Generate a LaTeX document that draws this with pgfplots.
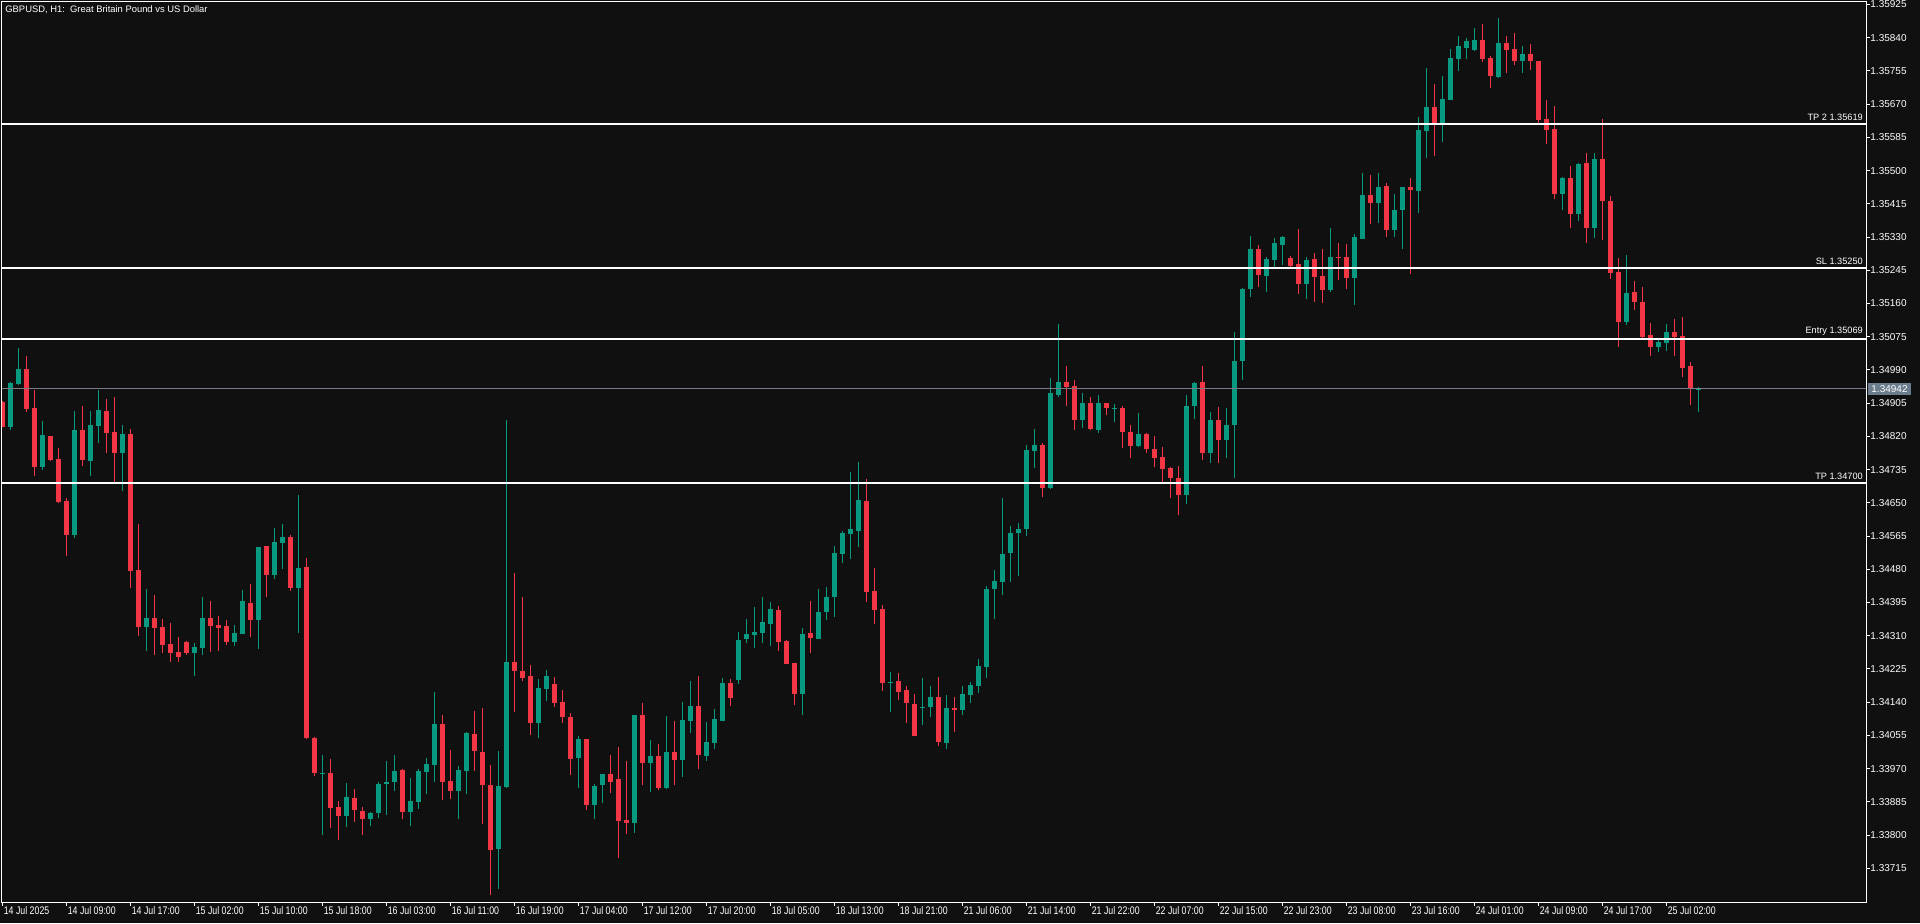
\documentclass[border=0pt]{standalone}
\usepackage{fontspec}
\setmainfont{Liberation Sans}
\newfontfamily\narrowfont[FakeStretch=0.8]{Liberation Sans}
\usepackage{pgfplots}
\usepackage{pgfplotstable}
\pgfplotsset{compat=1.18}
\definecolor{bgc}{RGB}{16,16,16}
\definecolor{upc}{RGB}{8,153,129}
\definecolor{dnc}{RGB}{242,54,69}
\definecolor{pricel}{RGB}{120,123,134}
\definecolor{pricebox}{RGB}{107,124,140}

\pgfplotstableread{
k o h l c
1 1.34845 1.34959 1.34837 1.34956
2 1.34955 1.35046 1.34951 1.34992
5 1.34742 1.34859 1.34735 1.34823
9 1.34568 1.34885 1.34561 1.34836
11 1.34758 1.34885 1.34719 1.34849
12 1.34847 1.34939 1.34804 1.34887
15 1.34778 1.34849 1.34681 1.34826
18 1.34333 1.34430 1.34272 1.34355
24 1.34267 1.34291 1.34207 1.34281
25 1.34279 1.34409 1.34262 1.34355
29 1.34295 1.34337 1.34285 1.34317
30 1.34315 1.34427 1.34314 1.34399
32 1.34351 1.34538 1.34277 1.34537
34 1.34466 1.34586 1.34456 1.34550
35 1.34548 1.34596 1.34482 1.34563
37 1.34433 1.34670 1.34318 1.34483
40 1.33957 1.34005 1.33800 1.33959
43 1.33850 1.33933 1.33822 1.33898
46 1.33840 1.33859 1.33824 1.33857
47 1.33857 1.33936 1.33845 1.33931
48 1.33932 1.33990 1.33852 1.33935
49 1.33937 1.34005 1.33914 1.33964
51 1.33858 1.33946 1.33824 1.33887
52 1.33886 1.33969 1.33868 1.33964
53 1.33962 1.33997 1.33906 1.33982
54 1.33980 1.34166 1.33937 1.34084
57 1.33914 1.33977 1.33840 1.33967
58 1.33965 1.34064 1.33904 1.34061
62 1.33765 1.34015 1.33663 1.33926
63 1.33924 1.34862 1.33921 1.34243
67 1.34088 1.34199 1.34049 1.34176
68 1.34175 1.34222 1.34144 1.34207
72 1.33998 1.34054 1.33921 1.34046
74 1.33878 1.33931 1.33842 1.33926
75 1.33927 1.33957 1.33881 1.33956
79 1.33832 1.34108 1.33806 1.34107
81 1.33985 1.34043 1.33911 1.34002
83 1.33921 1.34105 1.33917 1.34013
85 1.33993 1.34140 1.33949 1.34094
86 1.34092 1.34194 1.34062 1.34130
88 1.34003 1.34089 1.33990 1.34038
89 1.34036 1.34123 1.34020 1.34097
90 1.34092 1.34202 1.34091 1.34189
92 1.34197 1.34320 1.34187 1.34299
93 1.34302 1.34353 1.34292 1.34315
94 1.34312 1.34384 1.34279 1.34320
95 1.34317 1.34409 1.34292 1.34345
96 1.34340 1.34396 1.34284 1.34379
100 1.34161 1.34330 1.34107 1.34315
102 1.34302 1.34430 1.34301 1.34371
103 1.34371 1.34435 1.34350 1.34409
104 1.34409 1.34540 1.34358 1.34522
105 1.34519 1.34578 1.34496 1.34573
106 1.34570 1.34729 1.34506 1.34583
107 1.34578 1.34755 1.34537 1.34657
111 1.34190 1.34217 1.34115 1.34192
115 1.34126 1.34202 1.34082 1.34128
116 1.34128 1.34182 1.34102 1.34153
118 1.34036 1.34159 1.34020 1.34125
120 1.34120 1.34182 1.34107 1.34161
121 1.34159 1.34191 1.34138 1.34184
122 1.34182 1.34251 1.34164 1.34232
123 1.34230 1.34437 1.34202 1.34430
124 1.34430 1.34479 1.34354 1.34450
125 1.34448 1.34663 1.34413 1.34520
126 1.34521 1.34591 1.34448 1.34573
127 1.34572 1.34599 1.34464 1.34584
128 1.34582 1.34799 1.34564 1.34784
129 1.34782 1.34838 1.34739 1.34799
131 1.34687 1.34970 1.34685 1.34930
132 1.34926 1.35107 1.34920 1.34958
135 1.34861 1.34930 1.34841 1.34905
137 1.34836 1.34925 1.34828 1.34905
139 1.34891 1.34902 1.34856 1.34893
142 1.34795 1.34879 1.34792 1.34825
148 1.34669 1.34927 1.34646 1.34899
149 1.34897 1.34960 1.34864 1.34956
151 1.34777 1.34883 1.34751 1.34863
153 1.34810 1.34892 1.34764 1.34850
154 1.34849 1.35086 1.34713 1.35014
155 1.35012 1.35199 1.34964 1.35197
156 1.35197 1.35332 1.35177 1.35299
158 1.35230 1.35278 1.35189 1.35274
159 1.35272 1.35328 1.35253 1.35315
160 1.35310 1.35332 1.35259 1.35329
163 1.35210 1.35279 1.35171 1.35271
166 1.35194 1.35353 1.35189 1.35279
169 1.35225 1.35338 1.35156 1.35330
170 1.35325 1.35494 1.35324 1.35437
172 1.35417 1.35494 1.35366 1.35458
174 1.35348 1.35440 1.35330 1.35399
175 1.35399 1.35459 1.35299 1.35458
177 1.35448 1.35637 1.35391 1.35604
178 1.35601 1.35762 1.35532 1.35663
180 1.35622 1.35742 1.35573 1.35683
181 1.35681 1.35811 1.35680 1.35788
182 1.35785 1.35844 1.35755 1.35819
183 1.35814 1.35839 1.35785 1.35831
184 1.35808 1.35865 1.35806 1.35834
187 1.35739 1.35890 1.35737 1.35826
190 1.35780 1.35819 1.35750 1.35798
195 1.35440 1.35484 1.35399 1.35481
197 1.35389 1.35519 1.35371 1.35517
199 1.35353 1.35545 1.35328 1.35530
203 1.35113 1.35284 1.35105 1.35187
207 1.35049 1.35067 1.35036 1.35061
208 1.35059 1.35108 1.35038 1.35087
212 1.34940 1.34946 1.34882 1.34942
}\upbars

\pgfplotstableread{
k o h l c
0 1.34908 1.34910 1.34843 1.34845
3 1.34992 1.35026 1.34883 1.34891
4 1.34892 1.34939 1.34719 1.34742
6 1.34821 1.34822 1.34758 1.34760
7 1.34762 1.34790 1.34650 1.34653
8 1.34655 1.34662 1.34515 1.34568
10 1.34836 1.34898 1.34745 1.34760
13 1.34885 1.34916 1.34778 1.34829
14 1.34831 1.34921 1.34704 1.34778
16 1.34826 1.34839 1.34433 1.34476
17 1.34478 1.34596 1.34310 1.34333
19 1.34355 1.34414 1.34262 1.34331
20 1.34332 1.34353 1.34267 1.34287
21 1.34289 1.34343 1.34244 1.34267
22 1.34268 1.34307 1.34244 1.34256
23 1.34294 1.34296 1.34262 1.34267
26 1.34355 1.34399 1.34269 1.34336
27 1.34337 1.34360 1.34272 1.34331
28 1.34335 1.34350 1.34287 1.34295
31 1.34394 1.34442 1.34308 1.34351
33 1.34539 1.34540 1.34410 1.34466
36 1.34563 1.34568 1.34425 1.34433
38 1.34486 1.34509 1.34045 1.34048
39 1.34049 1.34052 1.33950 1.33960
41 1.33959 1.33995 1.33819 1.33870
42 1.33872 1.33887 1.33788 1.33850
44 1.33895 1.33918 1.33834 1.33863
45 1.33862 1.33872 1.33801 1.33840
50 1.33967 1.33969 1.33840 1.33858
55 1.34084 1.34107 1.33891 1.33937
56 1.33939 1.34018 1.33893 1.33914
59 1.34059 1.34118 1.33965 1.34014
60 1.34013 1.34125 1.33829 1.33927
61 1.33928 1.33979 1.33648 1.33763
64 1.34243 1.34471 1.34116 1.34221
65 1.34220 1.34409 1.34193 1.34203
66 1.34207 1.34235 1.34057 1.34088
69 1.34187 1.34205 1.34129 1.34139
70 1.34141 1.34171 1.34088 1.34101
71 1.34102 1.34112 1.33955 1.33996
73 1.34046 1.34047 1.33865 1.33878
76 1.33956 1.34005 1.33909 1.33937
77 1.33944 1.34025 1.33742 1.33837
78 1.33839 1.33990 1.33804 1.33832
80 1.34107 1.34138 1.33929 1.33985
82 1.34002 1.34033 1.33915 1.33921
84 1.34013 1.34092 1.33928 1.33993
87 1.34130 1.34207 1.33969 1.34005
91 1.34189 1.34199 1.34130 1.34151
97 1.34376 1.34386 1.34271 1.34294
98 1.34297 1.34298 1.34237 1.34238
99 1.34240 1.34241 1.34133 1.34161
101 1.34317 1.34399 1.34266 1.34304
108 1.34655 1.34711 1.34396 1.34422
109 1.34425 1.34483 1.34340 1.34376
110 1.34379 1.34389 1.34169 1.34189
112 1.34194 1.34215 1.34146 1.34166
113 1.34171 1.34182 1.34087 1.34138
114 1.34136 1.34161 1.34053 1.34054
117 1.34153 1.34205 1.34028 1.34038
119 1.34125 1.34153 1.34064 1.34120
130 1.34799 1.34802 1.34666 1.34687
133 1.34958 1.34999 1.34897 1.34946
134 1.34948 1.34963 1.34836 1.34861
136 1.34905 1.34922 1.34836 1.34839
138 1.34905 1.34906 1.34874 1.34893
140 1.34893 1.34899 1.34790 1.34830
141 1.34832 1.34850 1.34766 1.34795
143 1.34825 1.34829 1.34777 1.34787
144 1.34789 1.34822 1.34741 1.34766
145 1.34768 1.34794 1.34701 1.34736
146 1.34738 1.34742 1.34663 1.34713
147 1.34714 1.34745 1.34618 1.34669
150 1.34958 1.34999 1.34759 1.34777
152 1.34863 1.34896 1.34753 1.34810
157 1.35299 1.35309 1.35202 1.35233
161 1.35276 1.35281 1.35254 1.35256
162 1.35261 1.35351 1.35184 1.35210
164 1.35274 1.35289 1.35164 1.35228
165 1.35230 1.35299 1.35161 1.35194
167 1.35279 1.35315 1.35220 1.35276
168 1.35279 1.35312 1.35197 1.35225
171 1.35437 1.35489 1.35363 1.35417
173 1.35460 1.35468 1.35330 1.35348
176 1.35458 1.35481 1.35235 1.35450
179 1.35663 1.35721 1.35537 1.35622
185 1.35834 1.35875 1.35778 1.35785
186 1.35788 1.35793 1.35711 1.35742
188 1.35826 1.35844 1.35750 1.35808
189 1.35811 1.35852 1.35770 1.35780
191 1.35798 1.35824 1.35757 1.35780
192 1.35780 1.35781 1.35622 1.35629
193 1.35632 1.35681 1.35568 1.35604
194 1.35606 1.35665 1.35427 1.35440
196 1.35481 1.35512 1.35353 1.35389
198 1.35519 1.35545 1.35315 1.35353
200 1.35530 1.35632 1.35322 1.35422
201 1.35422 1.35435 1.35223 1.35239
202 1.35241 1.35276 1.35049 1.35113
204 1.35189 1.35218 1.35143 1.35164
205 1.35164 1.35202 1.35072 1.35074
206 1.35079 1.35110 1.35026 1.35049
209 1.35087 1.35120 1.35026 1.35074
210 1.35077 1.35125 1.34972 1.34995
211 1.35000 1.35010 1.34900 1.34940
}\dnbars

\begin{document}
\begin{tikzpicture}
\path[use as bounding box] (0,0) rectangle (960pt,461.5pt);
\fill[bgc] (0,0) rectangle (960pt,461.5pt);
\begin{axis}[
  at={(1pt,10.5pt)}, anchor=south west,
  scale only axis, width=932pt, height=450.25pt,
  xmin=-0.05, xmax=232.95, ymin=1.336289, ymax=1.359325,
  clip mode=individual,
  axis line style={white, line width=0.5pt},
  tick align=outside, major tick length=2pt,
  tick style={white, line width=0.5pt},
  xtick pos=bottom, ytick pos=right, yticklabel pos=right,
  xtick={0,8,...,208},
  xticklabels={14 Jul 2025, 14 Jul 09:00, 14 Jul 17:00, 15 Jul 02:00, 15 Jul 10:00, 15 Jul 18:00, 16 Jul 03:00, 16 Jul 11:00, 16 Jul 19:00, 17 Jul 04:00, 17 Jul 12:00, 17 Jul 20:00, 18 Jul 05:00, 18 Jul 13:00, 18 Jul 21:00, 21 Jul 06:00, 21 Jul 14:00, 21 Jul 22:00, 22 Jul 07:00, 22 Jul 15:00, 22 Jul 23:00, 23 Jul 08:00, 23 Jul 16:00, 24 Jul 01:00, 24 Jul 09:00, 24 Jul 17:00, 25 Jul 02:00},
  ytick={1.33715,1.33800,1.33885,1.33970,1.34055,1.34140,1.34225,1.34310,1.34395,1.34480,1.34565,1.34650,1.34735,1.34820,1.34905,1.34990,1.35075,1.35160,1.35245,1.35330,1.35415,1.35500,1.35585,1.35670,1.35755,1.35840,1.35925},
  yticklabels={1.33715,1.33800,1.33885,1.33970,1.34055,1.34140,1.34225,1.34310,1.34395,1.34480,1.34565,1.34650,1.34735,1.34820,1.34905,1.34990,1.35075,1.35160,1.35245,1.35330,1.35415,1.35500,1.35585,1.35670,1.35755,1.35840,1.35925},
  xticklabel style={anchor=north west, inner sep=0pt, text=white, font=\narrowfont\fontsize{5.5}{6}\selectfont, xshift=0.5pt},
  yticklabel style={anchor=west, inner sep=0pt, text=white, font=\fontsize{5}{6}\selectfont},
]
% wicks
\addplot[forget plot, draw=none, mark=none, error bars/.cd, y dir=plus, y explicit, error mark=none,
  error bar style={draw=upc, line width=0.5pt, solid}]
  table[x=k, y=l, y error plus expr={\thisrow{h}-\thisrow{l}}] {\upbars};
\addplot[forget plot, draw=none, mark=none, error bars/.cd, y dir=plus, y explicit, error mark=none,
  error bar style={draw=dnc, line width=0.5pt, solid}]
  table[x=k, y=l, y error plus expr={\thisrow{h}-\thisrow{l}}] {\dnbars};
% bodies
\addplot[forget plot, draw=none, mark=none, error bars/.cd, y dir=plus, y explicit, error mark=none,
  error bar style={draw=upc, line width=2.5pt, solid}]
  table[x=k, y=o, y error plus expr={\thisrow{c}-\thisrow{o}}] {\upbars};
\addplot[forget plot, draw=none, mark=none, error bars/.cd, y dir=plus, y explicit, error mark=none,
  error bar style={draw=dnc, line width=2.5pt, solid}]
  table[x=k, y=c, y error plus expr={\thisrow{o}-\thisrow{c}}] {\dnbars};
% levels
\addplot[forget plot, white, line width=1pt] coordinates {(-1,1.35619) (240,1.35619)};
\addplot[forget plot, white, line width=1pt] coordinates {(-1,1.35250) (240,1.35250)};
\addplot[forget plot, white, line width=1pt] coordinates {(-1,1.35069) (240,1.35069)};
\addplot[forget plot, white, line width=1pt] coordinates {(-1,1.34700) (240,1.34700)};
\addplot[forget plot, pricel, line width=0.5pt] coordinates {(-1,1.34942) (240,1.34942)};
\node[anchor=south east, inner sep=0pt, text=white, font=\fontsize{4.6}{5}\selectfont, yshift=1.5pt] at (axis cs:232.6,1.35619) {TP 2 1.35619};
\node[anchor=south east, inner sep=0pt, text=white, font=\fontsize{4.6}{5}\selectfont, yshift=1.5pt] at (axis cs:232.6,1.35250) {SL 1.35250};
\node[anchor=south east, inner sep=0pt, text=white, font=\fontsize{4.6}{5}\selectfont, yshift=1.5pt] at (axis cs:232.6,1.35069) {Entry 1.35069};
\node[anchor=south east, inner sep=0pt, text=white, font=\fontsize{4.6}{5}\selectfont, yshift=1.5pt] at (axis cs:232.6,1.34700) {TP 1.34700};
\node[anchor=north west, inner sep=0pt, text=white, font=\fontsize{4.7}{5}\selectfont, xshift=1.5pt, yshift=-2pt] at (rel axis cs:0,1) {GBPUSD, H1:\ \ Great Britain Pound vs US Dollar};
\node[anchor=west, fill=pricebox, text=white, inner xsep=1.5pt, inner ysep=1.2pt, font=\fontsize{5}{6}\selectfont, xshift=1pt] at (axis cs:232.95,1.34942) {1.34942};
\end{axis}
\end{tikzpicture}
\end{document}
